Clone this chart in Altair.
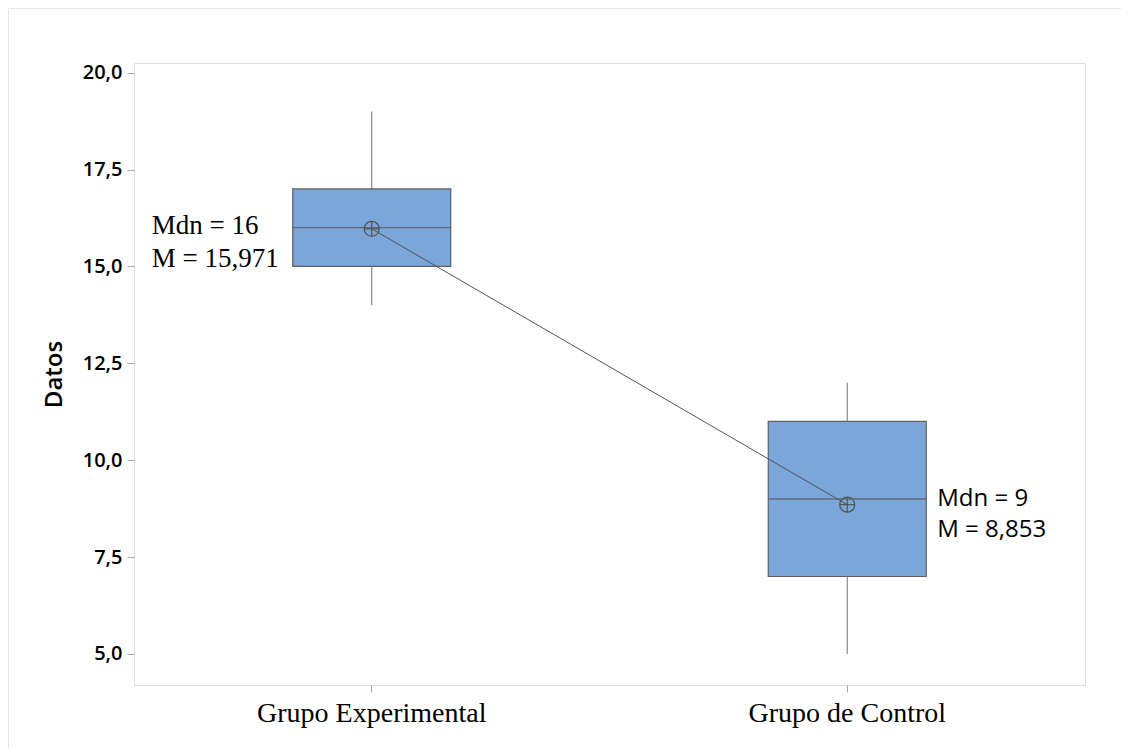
import altair as alt
import pandas as pd

groups = ["Grupo Experimental", "Grupo de Control"]
whisker_low = [14, 5]
q1 = [15, 7]
median = [16, 9]
q3 = [17, 11]
whisker_high = [19, 12]
means = [15.971, 8.853]
annot = [["Mdn = 16", "M = 15,971"], ["Mdn = 9", "M = 8,853"]]
y_ticks = [5.0, 7.5, 10.0, 12.5, 15.0, 17.5, 20.0]

df = pd.DataFrame({
    "group": groups,
    "lo": whisker_low,
    "q1": q1,
    "med": median,
    "q3": q3,
    "hi": whisker_high,
    "mean": means,
    "label": annot,
})

W, H = 951, 622
PL, PT, PR, PB = 126, 55, 36, 63

x = alt.X("group:N", sort=groups, title=None,
          scale=alt.Scale(paddingInner=0, paddingOuter=0),
          axis=alt.Axis(labelFont="Liberation Serif", labelFontSize=28,
                        labelColor="#000000", labelAngle=0, labelPadding=7,
                        labelLimit=600,
                        tickSize=7, tickColor="#a8a8a8", domain=False))
yscale = alt.Scale(domain=[4.2, 20.25], nice=False, zero=False)
yaxis = alt.Axis(values=y_ticks, title="Datos", grid=False, domain=False,
                 labelExpr="replace(format(datum.value, '.1f'), '.', ',')",
                 labelFont="Open Sans", labelFontSize=20, labelFontWeight=600,
                 labelColor="#000000", labelPadding=5, tickSize=7,
                 tickColor="#a8a8a8",
                 titleFont="Open Sans", titleFontSize=24, titleFontWeight=600,
                 titleColor="#000000", titleX=-80, titleY=H / 2,
                 titleAngle=-90, titleAlign="center", titleBaseline="middle")

base = alt.Chart(df)

whisk = base.mark_rule(color="#8a8a8a", strokeWidth=1.2).encode(
    x=x, y=alt.Y("lo:Q", scale=yscale, axis=yaxis), y2="hi:Q")

box = base.mark_bar(width=158, fill="#7ba6d9", stroke="#5f5f5f",
                    strokeWidth=1.2).encode(
    x=x, y=alt.Y("q1:Q", scale=yscale), y2="q3:Q")

med = base.mark_tick(size=158, thickness=1.3, color="#555555").encode(
    x=x, y=alt.Y("med:Q", scale=yscale))

mline = base.mark_line(color="#555555", strokeWidth=1).encode(
    x=x, y=alt.Y("mean:Q", scale=yscale))

sym = "M-1,0A1,1,0,1,1,1,0A1,1,0,1,1,-1,0M-1,0L1,0M0,-1L0,1"
mpt = base.mark_point(shape=sym, size=225, filled=False, color="#555555",
                      strokeWidth=1.2, opacity=1).encode(
    x=x, y=alt.Y("mean:Q", scale=yscale))

t1 = base.transform_filter(alt.datum.group == groups[0]).mark_text(
    font="Liberation Serif", fontSize=27, align="left", baseline="alphabetic",
    dx=-220, dy=6, lineHeight=33, color="#000000").encode(
    x=x, y=alt.Y("med:Q", scale=yscale), text="label")

t2 = base.transform_filter(alt.datum.group == groups[1]).mark_text(
    font="Open Sans", fontSize=24, align="left", baseline="alphabetic",
    dx=90, dy=7, lineHeight=31, color="#000000").encode(
    x=x, y=alt.Y("med:Q", scale=yscale), text="label")

one = alt.Data(values=[{"a": 1}])
frame_top = alt.Chart(one).mark_rule(color="#e6e6e6", strokeWidth=1).encode(
    x=alt.value(-125.5), x2=alt.value(W + PR), y=alt.value(-54.5))
frame_left = alt.Chart(one).mark_rule(color="#e6e6e6", strokeWidth=1).encode(
    x=alt.value(-125.5), y=alt.value(-54.5), y2=alt.value(H + PB))

chart = alt.layer(frame_top, frame_left, whisk, box, med, mline, mpt, t1, t2).properties(
    width=W, height=H,
    autosize=alt.AutoSizeParams(type="none"),
    padding={"left": PL, "top": PT, "right": PR, "bottom": PB},
).configure_view(stroke="#a8a8a8", strokeWidth=1.2).configure(background="white")

chart.save("out.html", embed_options={"renderer": "svg", "actions": False})
